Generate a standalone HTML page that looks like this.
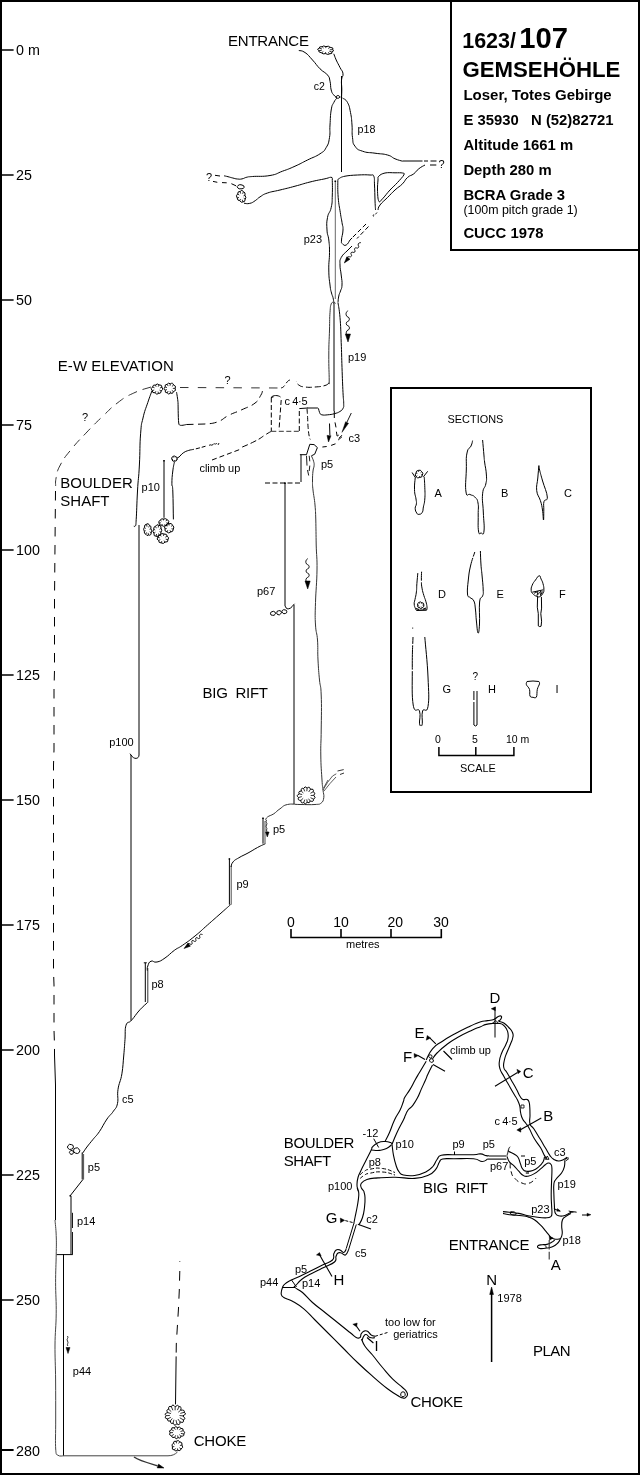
<!DOCTYPE html>
<html><head><meta charset="utf-8"><title>1623/107 Gemsehöhle</title>
<style>
html,body{margin:0;padding:0;background:#fff}
svg{display:block;filter:grayscale(1)}
text{font-family:"Liberation Sans",sans-serif;fill:#000}
</style></head><body>
<svg width="640" height="1475" viewBox="0 0 640 1475">
<rect x="0" y="0" width="640" height="1475" fill="#fff"/>
<rect x="1" y="1" width="638" height="1473" fill="none" stroke="#000" stroke-width="2"/>
<rect x="2" y="49.25" width="11.6" height="1.5" fill="#000"/>
<text x="16" y="54.9" font-size="14.3">0 m</text>
<rect x="2" y="174.25" width="11.6" height="1.5" fill="#000"/>
<text x="16" y="179.9" font-size="14.3">25</text>
<rect x="2" y="299.25" width="11.6" height="1.5" fill="#000"/>
<text x="16" y="304.9" font-size="14.3">50</text>
<rect x="2" y="424.25" width="11.6" height="1.5" fill="#000"/>
<text x="16" y="429.9" font-size="14.3">75</text>
<rect x="2" y="549.25" width="11.6" height="1.5" fill="#000"/>
<text x="16" y="554.9" font-size="14.3">100</text>
<rect x="2" y="674.25" width="11.6" height="1.5" fill="#000"/>
<text x="16" y="679.9" font-size="14.3">125</text>
<rect x="2" y="799.25" width="11.6" height="1.5" fill="#000"/>
<text x="16" y="804.9" font-size="14.3">150</text>
<rect x="2" y="924.25" width="11.6" height="1.5" fill="#000"/>
<text x="16" y="929.9" font-size="14.3">175</text>
<rect x="2" y="1049.25" width="11.6" height="1.5" fill="#000"/>
<text x="16" y="1054.9" font-size="14.3">200</text>
<rect x="2" y="1174.25" width="11.6" height="1.5" fill="#000"/>
<text x="16" y="1179.9" font-size="14.3">225</text>
<rect x="2" y="1299.25" width="11.6" height="1.5" fill="#000"/>
<text x="16" y="1304.9" font-size="14.3">250</text>
<rect x="2" y="1449.00" width="11.6" height="2.0" fill="#000"/>
<text x="16" y="1455.5" font-size="14.3">280</text>
<path d="M451 2V250H638" fill="none" stroke="#000" stroke-width="2"/>
<text x="462.2" y="48.3" font-size="21.5" font-weight="bold">1623/</text>
<text x="519.3" y="48.3" font-size="29.2" font-weight="bold">107</text>
<text x="462.5" y="76.5" font-size="22.2" font-weight="bold">GEMSEHÖHLE</text>
<text x="463.4" y="100" font-size="15" font-weight="bold" textLength="148.3">Loser, Totes Gebirge</text>
<text x="463.4" y="125" font-size="14.85" font-weight="bold" xml:space="preserve">E 35930   N (52)82721</text>
<text x="463.4" y="150" font-size="14.85" font-weight="bold">Altitude 1661 m</text>
<text x="463.4" y="175" font-size="14.85" font-weight="bold">Depth 280 m</text>
<text x="463.4" y="200" font-size="14.85" font-weight="bold">BCRA Grade 3</text>
<text x="463.4" y="214.4" font-size="12.4">(100m pitch grade 1)</text>
<text x="463.4" y="237.5" font-size="14.85" font-weight="bold">CUCC 1978</text>
<rect x="391" y="388" width="200" height="404" fill="none" stroke="#000" stroke-width="2"/>
<text x="447.6" y="422.5" font-size="10.9">SECTIONS</text>
<text x="434.4" y="497.4" font-size="11">A</text>
<text x="501.1" y="497.4" font-size="11">B</text>
<text x="564" y="497.4" font-size="11">C</text>
<text x="437.9" y="597.9" font-size="11">D</text>
<text x="496.6" y="597.9" font-size="11">E</text>
<text x="559" y="597.9" font-size="11">F</text>
<text x="442.5" y="693.2" font-size="11">G</text>
<text x="487.9" y="693.2" font-size="11">H</text>
<text x="555.6" y="693.2" font-size="11">I</text>
<text x="472.6" y="680" font-size="10">?</text>
<path d="M438.9 747V755.6H513.9V747M475.8 747V755.6" fill="none" stroke="#000" stroke-width="1.5"/>
<text x="438" y="743" font-size="10.5" text-anchor="middle">0</text>
<text x="474.8" y="743" font-size="10.5" text-anchor="middle">5</text>
<text x="506" y="743" font-size="10.5">10 m</text>
<text x="460" y="772" font-size="10.9">SCALE</text>
<path d="M415.2 478.0C415.0 481.1 414.3 484.1 414.5 489.7C414.7 495.3 415.5 495.3 416.0 499.0C416.5 502.7 416.6 501.2 416.4 503.8C416.2 506.3 415.1 505.9 415.2 508.4C415.3 510.9 415.8 511.5 416.8 513.1C417.8 514.7 417.6 514.5 419.1 514.3C420.6 514.1 421.2 514.3 422.3 512.3C423.4 510.3 422.7 510.4 423.4 506.9C424.1 503.4 424.4 504.2 424.8 499.0C425.2 493.8 425.0 493.2 424.8 487.3C424.6 481.4 424.4 479.6 424.2 476.8" fill="none" stroke="#000" stroke-width="1"/>
<path d="M416.1 476.7Q414.4 475.0 416.0 473.0Q416.0 470.6 418.3 470.4Q420.6 469.3 421.7 471.7Q423.8 473.0 422.3 475.1Q422.4 477.7 419.8 477.4Q417.5 478.8 416.1 476.7Z" fill="none" stroke="#000" stroke-width="1"/>
<path d="M416.1 476.7L417.3 475.6M416.0 473.0L417.3 473.4M418.3 470.4L418.7 471.9M421.7 471.7L420.6 472.7M422.3 475.1L421.0 474.6M419.8 477.4L419.5 476.0" fill="none" stroke="#000" stroke-width="0.8"/>
<path d="M412.1 472.5L415.6 478M427.7 471.3L423.4 476.8" fill="none" stroke="#000" stroke-width="1"/>
<path d="M472.6 440.6C472.2 442.0 472.5 442.7 471.0 446.0C469.5 449.3 468.3 446.6 467.0 453.0C465.7 459.4 466.6 459.6 466.3 470.0C466.0 480.4 465.0 485.5 466.0 492.0C467.0 498.5 467.7 493.2 470.0 494.5C472.3 495.8 472.7 494.7 474.8 497.0C476.9 499.3 477.1 498.2 478.0 503.0C478.9 507.8 478.1 507.5 478.2 515.0C478.3 522.5 477.8 526.2 478.5 531.0C479.2 535.8 479.5 533.0 481.0 533.0C482.5 533.0 483.4 536.6 484.0 531.0C484.6 525.4 483.7 521.9 483.3 512.0C482.9 502.1 481.9 501.2 482.6 493.8C483.3 486.3 484.8 489.0 485.8 484.0C486.8 479.0 486.7 480.9 486.4 475.0C486.1 469.1 485.2 467.1 484.6 462.0C484.0 456.9 484.5 461.9 484.0 456.0C483.5 450.1 483.0 444.3 482.6 440.0" fill="none" stroke="#000" stroke-width="1"/>
<path d="M538.9 465.6C538.6 468.5 538.3 472.2 537.8 478.0C537.3 483.8 536.1 485.3 536.7 490.6C537.3 495.9 539.0 496.1 540.4 500.6C541.8 505.1 541.8 505.5 542.5 510.0C543.2 514.5 543.2 520.0 543.5 520.0C543.8 520.0 543.7 514.3 543.8 510.0C543.9 505.7 543.2 504.5 544.0 501.5C544.8 498.5 547.6 501.8 547.3 497.0C547.0 492.2 544.4 487.3 542.6 481.0C540.8 474.7 540.5 473.6 539.6 470.0C538.7 466.4 539.1 466.6 538.9 465.6" fill="none" stroke="#000" stroke-width="1"/>
<path d="M417.8 573.1C417.6 575.8 417.3 578.4 416.9 583.4C416.5 588.4 416.9 587.6 416.4 591.9C415.9 596.2 415.6 596.2 415.0 599.4C414.4 602.6 414.1 601.5 414.2 604.0C414.3 606.5 414.9 607.0 415.5 608.7C416.1 610.4 416.2 609.9 416.4 610.4" fill="none" stroke="#000" stroke-width="1"/>
<path d="M416.4 610.4L426.7 610" fill="none" stroke="#000" stroke-width="1.3"/>
<path d="M421.6 571.7C421.5 574.1 421.3 576.2 421.4 580.6C421.5 585.0 421.3 584.1 422.0 588.1C422.7 592.1 422.9 592.1 423.9 595.6C424.9 599.1 425.0 598.2 425.8 601.2C426.6 604.2 426.8 604.6 427.0 606.9C427.2 609.2 426.8 609.2 426.7 610.0" fill="none" stroke="#000" stroke-width="1" stroke-dasharray="9 1.5 100"/>
<path d="M418.9 602.5Q420.3 601.1 421.8 602.7Q424.1 602.7 423.9 605.0Q424.3 607.1 422.2 607.8Q420.9 609.4 419.4 607.7Q417.3 607.5 417.6 605.4Q417.0 603.3 418.9 602.5Z" fill="none" stroke="#000" stroke-width="1"/>
<path d="M418.9 602.5L419.6 603.6M421.8 602.7L421.3 603.7M423.9 605.0L422.5 605.1M422.2 607.8L421.5 606.7M419.4 607.7L419.9 606.7M417.6 605.4L418.8 605.3" fill="none" stroke="#000" stroke-width="0.8"/>
<path d="M415.8 608.5L419 609.5M423 609.3L426 608" fill="none" stroke="#000" stroke-width="1.2"/>
<path d="M474.8 552.0C473.8 555.3 472.0 559.5 470.5 566.0C469.0 572.5 469.0 573.5 468.3 580.0C467.6 586.5 467.1 589.9 467.5 594.0C467.9 598.1 468.5 595.9 470.0 597.5C471.5 599.1 472.6 598.1 473.9 601.0C475.2 603.9 474.9 605.3 475.5 610.0C476.1 614.7 475.8 615.6 476.4 621.0C477.0 626.4 477.3 632.3 478.0 633.0C478.7 633.7 479.1 631.2 479.5 624.0C479.9 616.8 478.9 608.5 479.6 602.0C480.3 595.5 481.7 598.8 482.6 596.0C483.5 593.2 483.4 594.9 483.2 590.0C483.1 585.1 482.5 580.8 482.0 575.0C481.5 569.2 481.4 570.6 481.0 565.0C480.6 559.4 480.5 554.3 480.4 551.0" fill="none" stroke="#000" stroke-width="1" stroke-dasharray="5 1.2 400"/>
<path d="M539.2 575.8C537.7 576.0 537.4 577.5 535.5 580.0C533.6 582.5 533.3 582.5 532.2 585.2C531.1 587.9 531.1 588.1 531.2 590.3C531.3 592.5 531.2 592.0 532.7 593.6C534.2 595.2 534.9 595.7 536.9 596.4C538.9 597.1 538.6 597.3 540.2 596.4C541.8 595.5 542.0 595.0 543.0 593.1C544.0 591.2 543.9 591.9 543.9 589.4C543.9 586.9 543.7 586.4 543.0 583.7C542.3 581.0 542.1 581.2 541.1 579.1C540.1 577.0 540.7 575.6 539.2 575.8Z" fill="none" stroke="#000" stroke-width="1"/>
<path d="M532.2 592.2L543.4 589.8" fill="none" stroke="#000" stroke-width="1"/>
<path d="M534 593.3L538 591.5L537 595.5L541 591L540.5 595.5L542.5 591.5" fill="none" stroke="#000" stroke-width="0.9"/>
<path d="M537.6 596.4L537.3 607.2L538.3 613.7V625.9L539.7 626.6L541.1 626.2L541.6 621.2L540.8 613.7L541.6 608.1L541.4 596.9" fill="none" stroke="#000" stroke-width="1"/>
<path d="M412.7 627.6v1" fill="none" stroke="#000" stroke-width="1"/>
<path d="M413.0 637.0C412.8 644.1 412.2 651.6 412.3 667.5C412.4 683.4 411.6 694.9 413.2 705.0C414.9 715.1 418.0 706.6 419.5 711.0C421.0 715.4 419.1 720.5 419.5 723.8C419.9 727.0 420.3 725.0 421.0 725.0C421.7 725.0 421.9 727.0 422.3 723.8C422.7 720.5 421.3 715.0 422.6 711.0C423.9 707.0 426.7 714.4 428.0 706.5C429.3 698.6 428.7 693.2 428.0 677.0C427.3 660.8 425.5 646.3 424.8 637.0" fill="none" stroke="#000" stroke-width="1" stroke-dasharray="7 1.5 24 1.5 400"/>
<path d="M473.9 691V725L475.5 726L477 725V691" fill="none" stroke="#000" stroke-width="1" stroke-dasharray="9 2 100"/>
<path d="M527.0 681.5C526.9 682.1 525.9 683.1 526.4 684.7C526.9 686.3 528.8 687.1 529.5 689.4C530.2 691.7 529.3 694.4 530.0 696.0C530.7 697.6 531.7 697.1 533.0 697.3C534.3 697.5 535.5 698.6 536.4 697.0C537.3 695.4 536.7 692.0 537.3 689.4C537.9 686.8 539.2 685.3 539.5 683.8C539.8 682.2 539.0 682.0 538.9 681.5" fill="none" stroke="#000" stroke-width="1"/>
<path d="M527 681.5L533 681L538.9 681.5" fill="none" stroke="#000" stroke-width="1"/>
<text x="228" y="45.8" font-size="15" textLength="81">ENTRANCE</text>
<path d="M321.6 52.8Q318.2 52.3 318.7 50.6Q316.2 49.0 319.3 48.2Q318.8 46.4 322.1 46.7Q323.4 45.3 325.9 46.6Q328.8 45.5 330.1 47.3Q334.2 47.6 332.8 49.6Q334.7 51.1 331.9 52.0Q332.8 53.9 329.7 53.8Q328.2 55.2 325.5 53.6Q322.7 54.5 321.6 52.8Z" fill="none" stroke="#000" stroke-width="1"/>
<path d="M321.6 52.8L323.3 51.6M318.7 50.6L321.7 50.4M319.3 48.2L322.0 49.0M322.1 46.7L323.6 48.1M325.9 46.6L325.8 48.1M330.1 47.3L328.2 48.5M332.8 49.6L329.8 49.8M331.9 52.0L329.3 51.2M329.7 53.8L328.0 52.3M325.5 53.6L325.6 52.1" fill="none" stroke="#000" stroke-width="0.8"/>
<path d="M298.8 50.5C300.4 51.0 301.3 50.0 305.0 52.5C308.7 55.0 308.5 55.7 312.5 60.0C316.5 64.3 316.0 64.8 320.0 68.8C324.0 72.8 324.8 71.7 327.5 75.0C330.2 78.3 329.0 77.2 330.0 81.2C331.0 85.2 330.2 86.3 331.2 90.0C332.2 93.7 332.2 93.0 333.8 95.0C335.3 97.0 336.1 96.8 337.0 97.5" fill="none" stroke="#000" stroke-width="1"/>
<path d="M335.5 97L338 95.3L340.3 97L338 98.5Z" fill="none" stroke="#000" stroke-width="0.9"/>
<path d="M333.8 53.8C334.4 55.4 334.6 56.3 336.2 60.0C337.9 63.7 338.2 63.8 340.0 67.5C341.8 71.2 342.6 70.4 343.0 73.8C343.4 77.1 341.8 76.0 341.5 80.0C341.2 84.0 341.7 84.3 341.8 88.8C341.8 93.2 341.6 94.4 341.6 96.5" fill="none" stroke="#000" stroke-width="1"/>
<text x="313.7" y="89.5" font-size="10.5">c2</text>
<text x="357.5" y="133" font-size="10.7">p18</text>
<path d="M341.5 76V172" fill="none" stroke="#000" stroke-width="1"/>
<path d="M337.0 98.0C336.1 99.2 335.3 99.3 333.8 102.5C332.2 105.7 332.2 104.0 331.2 110.0C330.2 116.0 330.5 117.7 330.0 125.0C329.5 132.3 330.5 131.5 329.5 137.5C328.5 143.5 328.8 143.2 326.2 147.5C323.7 151.8 325.0 150.4 320.0 153.8C315.0 157.1 314.2 156.7 307.5 160.0C300.8 163.3 301.7 163.2 295.0 166.2C288.3 169.2 289.2 168.8 282.5 171.2C275.8 173.7 278.0 174.1 270.0 175.5C262.0 176.9 258.7 176.0 252.5 176.5C246.3 177.0 249.7 176.6 246.9 177.2C244.1 177.8 244.5 178.4 242.0 178.9C239.5 179.4 240.0 179.2 237.5 179.0C235.0 178.8 235.3 178.6 232.8 178.0C230.3 177.4 230.3 177.3 228.0 176.7C225.7 176.1 225.1 176.0 224.0 175.8" fill="none" stroke="#000" stroke-width="1"/>
<path d="M215 175.3L220 176" fill="none" stroke="#000" stroke-width="1"/>
<path d="M213 181.4L217.3 182.3M222 182.6L226.7 182.8M231.4 183.7L236 185.8" fill="none" stroke="#000" stroke-width="1"/>
<text x="206" y="180.5" font-size="11">?</text>
<path d="M244.1 187.3Q243.9 189.0 241.1 188.8Q238.8 189.3 237.8 187.9Q236.2 186.7 238.0 185.5Q239.6 184.0 242.0 185.0Q244.6 185.6 244.1 187.3Z" fill="none" stroke="#000" stroke-width="1"/>
<path d="M239.8 200.7Q237.4 200.8 237.2 198.0Q235.4 195.6 237.7 193.9Q237.7 191.0 240.1 191.5Q241.8 189.0 243.5 191.7Q245.7 192.3 245.0 195.4Q246.6 197.5 245.2 199.2Q245.2 202.1 243.0 201.9Q241.2 203.2 239.8 200.7Z" fill="none" stroke="#000" stroke-width="1"/>
<path d="M239.8 200.7L240.5 199.0M237.2 198.0L239.0 197.4M237.7 193.9L239.3 195.1M240.1 191.5L240.7 193.6M243.5 191.7L242.6 193.8M245.0 195.4L243.5 195.9M245.2 199.2L243.7 198.1M243.0 201.9L242.3 199.7" fill="none" stroke="#000" stroke-width="0.8"/>
<path d="M244.0 203.2C245.5 203.3 246.7 204.1 249.7 203.4C252.7 202.7 252.6 202.3 255.3 200.6C258.0 198.9 256.7 198.9 260.0 196.9C263.3 194.9 262.2 194.8 267.5 193.0C272.8 191.2 272.7 191.8 280.0 190.0C287.3 188.2 287.0 188.4 295.0 186.2C303.0 184.1 302.0 184.0 310.0 182.0C318.0 180.0 319.4 180.0 325.0 178.8C330.6 177.5 329.0 177.2 331.0 177.3C333.0 177.4 332.1 178.5 332.5 179.0" fill="none" stroke="#000" stroke-width="1"/>
<path d="M332.3 179.0C332.3 183.3 332.6 187.4 332.3 195.0C332.0 202.6 332.5 201.5 331.2 207.5C330.0 213.5 328.6 211.5 327.5 217.5C326.4 223.5 326.7 224.0 327.0 230.0C327.3 236.0 328.1 234.0 328.8 240.0C329.4 246.0 329.5 244.5 329.5 252.5C329.5 260.5 328.6 261.3 328.8 270.0C328.9 278.7 329.3 278.9 330.0 285.0C330.7 291.1 330.7 289.7 331.5 293.0C332.3 296.3 332.4 295.0 333.0 297.5C333.6 300.0 333.6 301.2 333.8 302.5" fill="none" stroke="#000" stroke-width="1"/>
<path d="M335.3 181V299" fill="none" stroke="#000" stroke-width="0.6"/>
<path d="M335.3 180.5v1.5" fill="none" stroke="#000" stroke-width="1.6"/>
<path d="M337.8 180.5C338.0 180.1 337.1 179.7 338.8 178.8C340.4 177.8 340.6 177.1 345.0 176.2C349.4 175.4 351.7 175.3 357.5 175.0C363.3 174.7 366.2 174.7 370.0 175.0C373.8 175.3 372.7 173.9 373.8 176.2C374.8 178.6 374.2 179.5 374.5 185.0C374.8 190.5 374.8 194.2 375.0 200.0C375.2 205.8 375.4 207.7 375.5 210.0" fill="none" stroke="#000" stroke-width="1"/>
<path d="M337.8 180.5C337.9 185.0 337.5 189.0 338.2 197.5C338.9 206.0 339.3 205.8 340.3 212.5C341.3 219.2 341.3 217.8 342.0 222.5C342.7 227.2 343.1 225.3 343.0 230.0C342.9 234.7 341.6 236.3 341.5 240.0C341.4 243.7 341.2 242.4 342.5 243.8C343.8 245.1 344.2 246.0 346.2 245.0C348.2 244.0 349.0 241.3 350.0 240.0" fill="none" stroke="#000" stroke-width="1"/>
<path d="M350 240L357 233" fill="none" stroke="#000" stroke-width="1" stroke-dasharray="3 2"/>
<path d="M347.0 251.0C345.5 252.7 343.1 253.8 341.2 257.5C339.4 261.2 340.0 260.3 340.0 265.0C340.0 269.7 340.7 269.7 341.2 275.0C341.8 280.3 342.2 280.7 342.0 285.0C341.8 289.3 341.4 288.1 340.5 291.0C339.6 293.9 339.4 292.9 338.8 296.0C338.1 299.1 338.2 300.8 338.0 302.5" fill="none" stroke="#000" stroke-width="1"/>
<path d="M347 251L352 246" fill="none" stroke="#000" stroke-width="1"/>
<path d="M342.5 98.0C343.8 99.2 345.4 98.6 347.5 102.5C349.6 106.4 349.3 106.5 350.5 112.5C351.7 118.5 351.5 118.3 352.0 125.0C352.5 131.7 351.7 131.8 352.5 137.5C353.3 143.2 352.3 142.6 355.0 146.2C357.7 149.9 357.2 149.4 362.5 151.2C367.8 153.1 368.3 152.2 375.0 153.2C381.7 154.2 382.2 153.5 387.5 155.0C392.8 156.5 391.0 157.1 395.0 158.8C399.0 160.4 400.5 160.6 402.5 161.2" fill="none" stroke="#000" stroke-width="1"/>
<path d="M402.5 161H422.5" fill="none" stroke="#000" stroke-width="1"/>
<path d="M424 161H428M430.5 161H436.5" fill="none" stroke="#000" stroke-width="1"/>
<text x="438.5" y="168" font-size="11">?</text>
<path d="M430 165H436.3" fill="none" stroke="#000" stroke-width="1"/>
<path d="M425.0 165.0C423.3 166.0 421.8 166.4 418.8 168.8C415.8 171.1 416.8 171.4 413.8 173.8C410.8 176.1 410.5 174.8 407.5 177.5C404.5 180.2 405.8 180.4 402.5 183.8C399.2 187.1 399.0 186.3 395.0 190.0C391.0 193.7 391.5 193.5 387.5 197.5C383.5 201.5 382.5 201.7 380.0 205.0C377.5 208.3 378.5 208.7 378.0 210.0" fill="none" stroke="#000" stroke-width="1"/>
<path d="M378.8 176.2C380.1 174.8 381.8 173.7 385.0 173.0C388.2 172.3 391.5 172.8 395.0 172.8C398.5 172.8 400.8 172.6 402.5 173.0C404.2 173.4 404.8 173.1 403.8 175.0C402.8 176.9 400.2 179.5 397.5 182.5C394.8 185.5 393.0 186.8 390.0 190.0C387.0 193.2 384.8 196.5 382.5 198.8C380.2 201.0 379.8 203.0 378.8 201.2C377.8 199.5 377.6 194.2 377.5 190.0C377.4 185.8 377.8 182.8 378.0 180.0C378.2 177.2 377.4 177.7 378.8 176.2Z" fill="none" stroke="#000" stroke-width="1"/>
<path d="M366 224L350 240" fill="none" stroke="#000" stroke-width="1" stroke-dasharray="4.5 2.5"/>
<path d="M368.5 226.5L357 238.5" fill="none" stroke="#000" stroke-width="1" stroke-dasharray="4.5 2.5"/>
<path d="M373.6 214.5l-0.6 1.5M377 212.5l-3.5 4" fill="none" stroke="#000" stroke-width="0.9" stroke-dasharray="2.5 2"/>
<text x="303.7" y="243" font-size="11">p23</text>
<path d="M361.0 242.5C360.1 243.0 359.2 242.2 358.3 243.9C357.4 245.6 359.6 246.2 358.4 247.6C357.2 249.1 355.9 246.8 354.8 248.3C353.6 249.7 356.0 250.5 354.8 252.0C353.7 253.4 352.4 251.2 351.2 252.6C350.0 254.1 352.5 254.9 351.3 256.3C350.1 257.8 349.2 255.8 347.7 257.0C346.2 258.2 347.1 258.9 346.8 259.9" fill="none" stroke="#000" stroke-width="0.9"/>
<path d="M344.3 263.0L346.9 256.7L350.0 259.2Z" fill="#000" stroke="#000" stroke-width="0.5"/>
<path d="M333.5 302.5C332.9 302.9 332.2 301.3 331.2 304.0C330.3 306.7 330.5 305.6 330.0 312.5C329.5 319.4 329.8 318.7 329.5 330.0C329.2 341.3 328.8 341.7 328.8 355.0C328.7 368.3 329.2 372.5 329.2 380.0C329.2 387.5 328.9 382.2 328.8 383.0" fill="none" stroke="#333" stroke-width="1"/>
<path d="M334 303V411" fill="none" stroke="#000" stroke-width="1"/>
<path d="M333.2 303.3L334.5 302.3L335.5 303.5" fill="none" stroke="#000" stroke-width="0.8"/>
<path d="M338.0 302.8C338.5 306.2 339.2 308.2 340.0 317.5C340.8 326.8 340.8 330.8 341.2 342.5C341.7 354.2 341.6 355.8 342.0 367.5C342.4 379.2 342.6 384.1 343.0 392.5C343.4 400.9 343.7 399.6 343.7 403.3C343.7 407.0 344.0 406.3 343.1 408.2C342.2 410.1 341.9 410.2 339.9 411.5C337.9 412.8 337.2 412.9 334.4 413.7C331.6 414.5 330.7 414.5 327.8 414.8C324.9 415.1 323.7 415.3 321.8 414.8C319.9 414.3 320.4 414.0 319.6 412.6C318.8 411.2 319.0 409.8 318.5 408.8C318.0 407.7 317.7 408.1 317.4 407.9" fill="none" stroke="#000" stroke-width="1"/>
<path d="M317.4 408H307" fill="none" stroke="#000" stroke-width="1"/>
<path d="M347.7 310.6C347.2 312.0 345.6 312.1 346.1 314.9C346.7 317.8 349.4 316.3 349.4 319.2C349.4 322.1 346.2 320.7 346.2 323.6C346.3 326.4 349.4 325.0 349.5 327.9C349.5 330.7 346.8 329.3 346.3 332.2C345.8 335.1 347.4 335.1 347.9 336.5" fill="none" stroke="#000" stroke-width="0.9"/>
<path d="M348.0 342.0L345.3 334.0L350.5 334.0Z" fill="#000" stroke="#000" stroke-width="0.5"/>
<text x="348" y="361.3" font-size="11">p19</text>
<path d="M328.8 383.0C327.8 383.7 328.7 384.4 325.0 385.5C321.3 386.6 320.3 386.6 315.0 387.0C309.7 387.4 309.3 387.5 305.0 387.0C300.7 386.5 301.1 386.5 298.8 385.0C296.4 383.5 296.9 382.2 296.2 381.2" fill="none" stroke="#000" stroke-width="1" stroke-dasharray="6 3"/>
<path d="M290.0 380.0C289.3 380.4 289.2 379.8 287.5 381.5C285.8 383.2 285.5 384.8 283.8 386.5C282.0 388.2 281.7 387.6 281.0 388.0" fill="none" stroke="#000" stroke-width="1" stroke-dasharray="5 3"/>
<path d="M180 387.5L278.5 388" fill="none" stroke="#333" stroke-width="1" stroke-dasharray="8.5 9.3"/>
<text x="224.5" y="383.8" font-size="11">?</text>
<path d="M262.5 391.0C262.0 392.2 262.6 392.4 260.6 395.6C258.6 398.8 260.0 399.3 255.0 403.1C250.0 406.9 248.9 406.4 241.9 409.7C234.9 413.0 235.3 412.0 228.8 415.3C222.3 418.6 223.8 419.6 217.5 421.9C211.2 424.2 208.3 423.4 205.0 424.0" fill="none" stroke="#000" stroke-width="1" stroke-dasharray="7 4.5"/>
<path d="M205 424L187 424.5" fill="none" stroke="#000" stroke-width="1" stroke-dasharray="7 4.5"/>
<path d="M271.3 397.5V431.3" fill="none" stroke="#000" stroke-width="1" stroke-dasharray="5 2.5"/>
<path d="M281.2 400L279 430" fill="none" stroke="#000" stroke-width="1" stroke-dasharray="5 2.5"/>
<path d="M271.3 397.3C273 395 278 395 280.5 397" fill="none" stroke="#000" stroke-width="1"/>
<path d="M271 397.5l2.5 -0.6" fill="none" stroke="#000" stroke-width="1"/>
<path d="M271.3 431.3H298.8" fill="none" stroke="#333" stroke-width="1" stroke-dasharray="5 2.5"/>
<path d="M299.3 431V408.8" fill="none" stroke="#000" stroke-width="1" stroke-dasharray="5 2.5"/>
<path d="M299.3 408.6L307.5 408" fill="none" stroke="#000" stroke-width="1"/>
<text x="284.5" y="404.5" font-size="11" textLength="23">c 4·5</text>
<path d="M271.3 431.3C269.6 432.3 269.3 432.3 265.0 435.0C260.7 437.7 261.7 437.8 255.0 441.2C248.3 444.7 244.0 446.2 240.0 448.0" fill="none" stroke="#000" stroke-width="1" stroke-dasharray="6 3"/>
<path d="M307.0 408.8C307.2 411.1 307.3 412.5 307.6 417.5C307.9 422.5 307.7 422.4 308.1 427.4C308.5 432.4 308.6 432.9 309.2 436.1C309.8 439.3 310.0 438.5 310.3 439.4" fill="none" stroke="#000" stroke-width="1" stroke-dasharray="5 2.5"/>
<path d="M299.9 454.7H306.5L309.8 444.3L314.1 444.6L317.4 447.6L314.7 454.2L311.4 455.8" fill="none" stroke="#000" stroke-width="1"/>
<path d="M322.4 447L326.7 446.5M331.1 445.4L335.5 443.8M338.2 440L342 436.7" fill="none" stroke="#000" stroke-width="1"/>
<path d="M329.5 423.5L329.9 435" fill="none" stroke="#000" stroke-width="1"/>
<path d="M328.5 442.0L327.0 435.4L331.0 435.7Z" fill="#000" stroke="#000" stroke-width="0.5"/>
<path d="M334.3 411V418" fill="none" stroke="#000" stroke-width="1"/>
<path d="M335 422.4L336 427.4M336.4 431.7L337.1 436" fill="none" stroke="#000" stroke-width="1"/>
<path d="M337.1 436.2l1.7 -1.2M338.8 438.3l3.2 -3.2" fill="none" stroke="#000" stroke-width="0.9"/>
<path d="M351.3 413L347 422" fill="none" stroke="#000" stroke-width="0.9"/>
<path d="M342.0 432.3L345.6 421.8L348.5 423.3Z" fill="#000" stroke="#000" stroke-width="0.5"/>
<text x="348.6" y="441.6" font-size="11">c3</text>
<text x="321" y="468.4" font-size="11">p5</text>
<path d="M301 454.7V482" fill="none" stroke="#000" stroke-width="1"/>
<path d="M265 483H301.3" fill="none" stroke="#000" stroke-width="1" stroke-dasharray="5 2.5"/>
<path d="M306.5 455.8L307 465.6M307.5 470L308.7 475.5" fill="none" stroke="#000" stroke-width="0.9"/>
<path d="M309.2 455.8L309.8 461.3M309.8 465.6L309.2 471" fill="none" stroke="#000" stroke-width="0.9"/>
<path d="M311.4 455.8C311.9 457.1 313.0 459.0 313.6 461.3C314.2 463.6 314.2 463.3 314.1 465.6C314.0 467.9 313.4 467.4 313.0 471.0C312.6 474.6 312.5 476.6 312.5 481.0C312.5 485.4 312.4 484.4 313.0 490.0C313.6 495.6 314.4 498.0 315.0 505.0C315.6 512.0 315.5 510.7 315.8 520.0C316.0 529.3 316.0 533.3 316.2 545.0C316.5 556.7 317.2 556.6 317.0 570.0C316.8 583.4 315.9 589.7 315.5 602.5C315.1 615.3 315.0 616.2 315.5 625.0C316.0 633.8 316.9 631.8 317.5 640.0C318.1 648.2 317.5 650.7 318.0 660.0C318.5 669.3 318.7 671.8 319.5 680.0C320.3 688.2 320.8 683.3 321.2 695.0C321.7 706.7 321.4 716.0 321.2 730.0C321.1 744.0 320.6 743.3 320.8 755.0C320.9 766.7 321.5 771.8 322.0 780.0C322.5 788.2 322.6 785.9 323.0 790.0C323.4 794.1 324.2 794.5 323.8 797.5C323.3 800.5 323.3 801.4 321.2 803.0C319.2 804.6 320.0 804.1 315.0 804.5C310.0 804.9 306.4 804.5 300.0 804.5C293.6 804.5 292.2 803.5 287.5 804.5C282.8 805.5 283.2 806.6 280.0 808.8C276.8 810.9 276.7 811.8 273.8 813.8C270.8 815.7 269.4 815.5 267.5 817.0C265.6 818.5 266.0 819.3 265.5 820.0" fill="none" stroke="#333" stroke-width="1"/>
<path d="M285 482.5V606" fill="none" stroke="#000" stroke-width="1"/>
<path d="M285 482.5v1.5" fill="none" stroke="#000" stroke-width="1.5"/>
<path d="M285.0 606.0C286.2 606.9 285.6 609.5 288.8 608.8C291.9 608.0 292.6 605.4 294.5 603.8" fill="none" stroke="#000" stroke-width="1"/>
<path d="M272.6 615.3Q270.5 615.4 270.5 613.8Q270.1 612.2 272.0 611.7Q273.6 610.8 274.9 612.0Q276.3 613.2 275.0 614.4Q274.3 615.8 272.6 615.3Z" fill="none" stroke="#000" stroke-width="1"/>
<path d="M278.4 610.8Q280.2 610.1 281.1 611.5Q282.1 612.7 280.7 613.8Q279.9 615.3 278.0 614.7Q276.3 614.1 276.8 612.5Q276.6 611.0 278.4 610.8Z" fill="none" stroke="#000" stroke-width="1"/>
<path d="M282.2 610.6Q283.3 609.2 285.1 609.9Q287.0 610.1 286.8 611.7Q287.0 613.1 285.3 613.5Q283.7 614.2 282.7 613.0Q281.2 611.9 282.2 610.6Z" fill="none" stroke="#000" stroke-width="1"/>
<path d="M294 605V804" fill="none" stroke="#000" stroke-width="1"/>
<text x="257" y="594.5" font-size="11">p67</text>
<path d="M307.5 558.5C307.0 559.9 305.4 559.9 305.9 562.7C306.5 565.5 309.1 564.0 309.2 566.8C309.2 569.6 306.0 568.2 306.0 571.0C306.0 573.8 309.2 572.4 309.2 575.2C309.2 577.9 306.6 576.6 306.0 579.3C305.5 582.1 307.1 582.1 307.7 583.5" fill="none" stroke="#000" stroke-width="0.9"/>
<path d="M307.7 589.0L305.0 581.0L310.2 581.0Z" fill="#000" stroke="#000" stroke-width="0.5"/>
<text x="202.5" y="697.5" font-size="15" xml:space="preserve" textLength="65.5">BIG  RIFT</text>
<path d="M323 790L327.5 782.5L332.5 776L336.3 773.8M324 791L330 783.5L336 777M323.5 788L328 780" fill="none" stroke="#333" stroke-width="0.8"/>
<path d="M337.5 771L343.7 769.6M340 774.5L344 773" fill="none" stroke="#000" stroke-width="0.8"/>
<path d="M300.9 800.4Q297.1 800.5 298.6 797.5Q295.5 795.6 299.3 793.9Q297.7 791.1 301.3 791.1Q300.7 787.6 303.6 788.5Q304.9 785.3 307.1 788.1Q309.8 785.9 310.4 789.4Q314.2 788.4 313.3 791.7Q316.0 793.0 313.8 795.4Q316.4 797.9 313.6 799.2Q314.0 802.2 310.2 801.0Q309.6 803.9 307.2 802.3Q305.2 805.3 303.7 802.6Q300.7 803.8 300.9 800.4Z" fill="none" stroke="#000" stroke-width="1"/>
<path d="M300.9 800.4L303.2 798.3M298.6 797.5L301.8 796.6M299.3 793.9L302.2 794.5M301.3 791.1L303.4 793.0M303.6 788.5L304.7 791.4M307.1 788.1L306.8 791.2M310.4 789.4L308.7 792.0M313.3 791.7L310.4 793.3M313.8 795.4L310.7 795.5M313.6 799.2L310.5 797.7M310.2 801.0L308.5 798.7M307.2 802.3L306.8 799.4M303.7 802.6L304.8 799.6" fill="none" stroke="#000" stroke-width="0.8"/>
<text x="57.8" y="371.3" font-size="15" textLength="116">E-W ELEVATION</text>
<path d="M152.6 387.0Q152.8 384.5 155.5 385.0Q157.3 383.0 159.0 384.9Q162.1 384.5 162.0 387.3Q164.0 389.4 161.2 391.0Q161.3 393.6 158.6 393.5Q156.7 395.2 155.1 392.8Q152.1 393.3 152.2 390.6Q149.9 388.6 152.6 387.0Z" fill="none" stroke="#000" stroke-width="1"/>
<path d="M152.6 387.0L154.5 387.8M155.5 385.0L156.1 386.7M159.0 384.9L158.2 386.7M162.0 387.3L159.9 388.0M161.2 391.0L159.5 390.1M158.6 393.5L158.0 391.6M155.1 392.8L155.9 391.2M152.2 390.6L154.2 390.0" fill="none" stroke="#000" stroke-width="0.8"/>
<path d="M173.4 391.6Q173.0 394.3 170.5 393.1Q168.6 395.1 167.2 392.9Q164.6 392.9 165.2 390.2Q163.1 388.6 165.1 386.9Q164.5 384.3 167.1 384.3Q168.4 382.3 170.3 383.8Q173.0 382.2 173.5 385.0Q176.6 385.8 175.2 388.4Q176.6 390.9 173.4 391.6Z" fill="none" stroke="#000" stroke-width="1"/>
<path d="M173.4 391.6L171.8 390.3M170.5 393.1L170.1 391.2M167.2 392.9L168.2 391.0M165.2 390.2L167.0 389.5M165.1 386.9L167.0 387.6M167.1 384.3L168.2 386.1M170.3 383.8L170.0 385.8M173.5 385.0L171.9 386.5M175.2 388.4L172.8 388.4" fill="none" stroke="#000" stroke-width="0.8"/>
<path d="M151.0 387.0C146.4 388.6 142.6 388.9 133.8 393.0C125.0 397.1 126.3 396.2 118.0 402.5C109.7 408.8 110.8 408.6 102.5 416.5C94.2 424.4 95.3 423.2 87.0 432.0C78.7 440.8 78.4 440.6 71.2 449.4C64.1 458.2 64.3 457.5 60.3 465.0C56.3 472.5 57.5 471.9 56.2 477.5C55.0 483.1 55.8 483.7 55.6 486.0" fill="none" stroke="#333" stroke-width="1" stroke-dasharray="9 6"/>
<text x="82" y="420.6" font-size="11">?</text>
<path d="M55.5 491L54.5 600V670L54 690V750L53.5 765V970L54 985V1030L54.5 1045V1055" fill="none" stroke="#000" stroke-width="1" stroke-dasharray="9.5 8.5"/>
<path d="M54.5 1055L55.5 1085V1220" fill="none" stroke="#000" stroke-width="1"/>
<path d="M151.9 391.0C150.8 394.1 150.2 395.3 147.8 402.5C145.4 409.7 144.9 409.7 143.0 418.0C141.1 426.3 141.6 421.2 140.6 433.8C139.6 446.3 140.2 449.7 139.4 465.0C138.6 480.3 138.3 476.5 137.5 491.0C136.7 505.5 136.8 510.2 136.2 519.4C135.7 528.6 136.0 523.8 135.3 525.6C134.6 527.4 134.2 526.1 133.8 526.2" fill="none" stroke="#000" stroke-width="1"/>
<path d="M176.5 392.0C176.7 393.1 177.8 399.3 178.0 402.5C178.2 405.7 178.1 422.2 179.0 424.4C179.9 426.6 186.2 424.4 187.0 424.4" fill="none" stroke="#000" stroke-width="1"/>
<path d="M172.7 456.6Q174.1 455.3 175.7 456.6Q177.7 457.3 177.2 459.4Q176.6 461.4 174.6 461.2Q172.5 461.8 172.0 459.7Q170.9 457.8 172.7 456.6Z" fill="none" stroke="#000" stroke-width="1"/>
<path d="M172.7 456.6L173.4 457.5M175.7 456.6L175.1 457.5M177.2 459.4L176.0 459.1M174.6 461.2L174.5 460.2M172.0 459.7L173.0 459.3" fill="none" stroke="#000" stroke-width="0.8"/>
<path d="M177.0 457.5C177.5 457.4 177.2 458.3 179.0 457.0C180.8 455.7 180.8 454.4 183.8 452.5C186.7 450.6 188.3 450.7 190.0 450.0" fill="none" stroke="#000" stroke-width="1"/>
<path d="M190.0 450.0C191.6 449.7 191.8 449.8 196.0 448.8C200.2 447.8 203.0 446.9 205.6 446.2" fill="none" stroke="#000" stroke-width="1" stroke-dasharray="4 2"/>
<path d="M209 445.5c1.5 -2 2.5 1 4 -1 c1.5 -2 2.5 1 4 -1.5M218 445l1 -2" fill="none" stroke="#000" stroke-width="0.9"/>
<path d="M212 460L240 449.4" fill="none" stroke="#000" stroke-width="1" stroke-dasharray="5 3"/>
<path d="M164 460.3V517.8" fill="none" stroke="#000" stroke-width="1"/>
<path d="M164 460v1.5" fill="none" stroke="#000" stroke-width="1.5"/>
<path d="M174.4 462.0C174.0 464.4 173.5 465.2 172.8 471.0C172.1 476.8 171.9 478.4 171.9 483.8C171.9 489.1 172.4 481.5 172.8 491.0C173.2 500.5 173.2 511.8 173.4 519.4" fill="none" stroke="#000" stroke-width="1"/>
<text x="199.4" y="471.9" font-size="11">climb up</text>
<text x="141.6" y="491" font-size="11">p10</text>
<text x="60.3" y="487.5" font-size="15" textLength="72.5">BOULDER</text>
<text x="60.3" y="506.3" font-size="15">SHAFT</text>
<path d="M144.3 531.2Q142.9 529.1 144.4 527.4Q144.4 524.2 146.5 524.2Q148.4 522.4 149.5 525.5Q151.7 525.7 150.9 528.8Q152.8 531.0 151.2 532.9Q150.9 536.0 148.5 535.0Q146.9 536.5 145.8 534.2Q143.9 533.8 144.3 531.2Z" fill="none" stroke="#000" stroke-width="1"/>
<path d="M144.3 531.2L145.7 530.7M144.4 527.4L145.8 528.5M146.5 524.2L147.0 526.7M149.5 525.5L148.7 527.4M150.9 528.8L149.5 529.3M151.2 532.9L149.7 531.7M148.5 535.0L148.1 532.9M145.8 534.2L146.6 532.4" fill="none" stroke="#000" stroke-width="0.8"/>
<path d="M153.7 529.3Q153.4 526.6 155.5 526.3Q156.9 523.6 158.7 525.3Q161.3 524.8 161.1 528.3Q162.6 530.2 161.0 532.2Q161.3 534.9 159.3 535.4Q158.0 538.2 156.1 536.2Q153.6 536.7 153.9 533.2Q152.0 531.5 153.7 529.3Z" fill="none" stroke="#000" stroke-width="1"/>
<path d="M153.7 529.3L155.2 530.0M155.5 526.3L156.3 528.2M158.7 525.3L158.2 527.6M161.1 528.3L159.5 529.4M161.0 532.2L159.5 531.6M159.3 535.4L158.5 533.5M156.1 536.2L156.6 534.0M153.9 533.2L155.4 532.2" fill="none" stroke="#000" stroke-width="0.8"/>
<path d="M163.5 519.0Q166.1 518.0 167.4 519.9Q170.1 521.1 168.3 523.2Q168.8 525.6 165.5 525.6Q163.5 527.1 161.6 525.3Q158.9 525.1 159.0 523.1Q157.9 521.3 160.3 520.3Q161.0 518.1 163.5 519.0Z" fill="none" stroke="#000" stroke-width="1"/>
<path d="M163.5 519.0L163.5 520.4M167.4 519.9L165.7 520.9M168.3 523.2L166.3 522.8M165.5 525.6L164.7 524.2M161.6 525.3L162.4 524.0M159.0 523.1L160.9 522.8M160.3 520.3L161.6 521.1" fill="none" stroke="#000" stroke-width="0.8"/>
<path d="M165.0 528.8Q163.5 526.4 166.0 525.3Q166.8 522.7 169.2 523.6Q171.7 522.7 172.6 525.3Q174.7 526.9 173.3 529.2Q173.3 531.9 170.7 532.0Q168.7 534.0 167.0 531.9Q164.3 531.5 165.0 528.8Z" fill="none" stroke="#000" stroke-width="1"/>
<path d="M165.0 528.8L166.7 528.4M166.0 525.3L167.3 526.4M169.2 523.6L169.1 525.5M172.6 525.3L171.1 526.4M173.3 529.2L171.5 528.7M170.7 532.0L170.0 530.3M167.0 531.9L167.8 530.2" fill="none" stroke="#000" stroke-width="0.8"/>
<path d="M164.0 534.0Q166.9 533.6 167.2 536.2Q169.6 537.7 168.0 539.7Q168.5 542.4 165.0 542.1Q163.5 544.4 161.2 542.9Q158.5 543.1 158.7 540.5Q155.9 539.3 157.8 537.4Q157.0 534.8 160.2 534.9Q161.7 532.7 164.0 534.0Z" fill="none" stroke="#000" stroke-width="1"/>
<path d="M164.0 534.0L163.4 535.9M167.2 536.2L165.3 537.2M168.0 539.7L165.7 539.2M165.0 542.1L164.0 540.6M161.2 542.9L161.8 541.1M158.7 540.5L160.3 539.6M157.8 537.4L159.8 537.9M160.2 534.9L161.2 536.4" fill="none" stroke="#000" stroke-width="0.8"/>
<path d="M139 525V755C139 759 134 760 131 755L130 753.7" fill="none" stroke="#000" stroke-width="1"/>
<path d="M131 755V1020.6" fill="none" stroke="#000" stroke-width="1"/>
<text x="109.25" y="745.5" font-size="11">p100</text>
<path d="M263 818V843.7" fill="none" stroke="#000" stroke-width="1"/>
<path d="M265 821V843.7" fill="none" stroke="#000" stroke-width="0.7"/>
<path d="M263 817.5v1.5" fill="none" stroke="#000" stroke-width="1.5"/>
<path d="M266.5 820c-1.5 2 1.5 3 0 5s1.5 3 0 5l0.5 2" fill="none" stroke="#000" stroke-width="0.8"/>
<path d="M267.3 837.0L265.5 832.0L269.1 832.0Z" fill="#000" stroke="#000" stroke-width="0.5"/>
<text x="273" y="833.4" font-size="11">p5</text>
<path d="M265.3 843.8C263.2 844.8 262.1 845.0 257.5 847.5C252.9 850.0 253.0 850.3 248.0 853.0C243.0 855.7 242.8 855.4 238.8 857.8C234.8 860.2 235.1 859.5 233.0 862.0C230.9 864.5 231.5 865.7 231.0 867.0" fill="none" stroke="#000" stroke-width="1"/>
<path d="M229.4 858.7V904.7" fill="none" stroke="#000" stroke-width="1"/>
<path d="M231.2 866V904.7" fill="none" stroke="#000" stroke-width="0.7"/>
<path d="M229.4 858.2v1.5" fill="none" stroke="#000" stroke-width="1.5"/>
<text x="236.5" y="887.5" font-size="11">p9</text>
<path d="M230.5 904.7C227.7 907.2 226.1 908.6 220.0 914.0C213.9 919.4 214.2 919.1 207.5 925.0C200.8 930.9 201.7 930.6 195.0 936.0C188.3 941.4 188.0 941.5 182.5 945.3C177.0 949.1 179.1 946.9 174.4 950.3C169.7 953.7 169.6 954.9 165.0 958.0C160.4 961.1 160.7 961.1 157.0 962.0C153.3 962.9 153.5 960.2 151.0 961.2C148.5 962.3 148.8 963.5 147.8 966.0C146.8 968.5 147.4 969.4 147.3 970.6" fill="none" stroke="#000" stroke-width="1"/>
<path d="M202.5 934.5C201.6 934.6 200.8 933.6 199.8 934.9C198.8 936.2 200.7 937.5 199.5 938.4C198.2 939.4 197.2 936.8 196.0 937.8C194.7 938.8 196.9 940.4 195.6 941.3C194.4 942.3 193.4 939.7 192.1 940.7C190.9 941.7 193.1 943.3 191.8 944.2C190.5 945.2 189.9 943.0 188.3 943.6C186.8 944.2 187.6 945.3 187.2 946.1" fill="none" stroke="#000" stroke-width="0.9"/>
<path d="M184.0 948.5L188.0 943.0L190.4 946.2Z" fill="#000" stroke="#000" stroke-width="0.5"/>
<path d="M145.3 962.8V1002" fill="none" stroke="#000" stroke-width="1"/>
<path d="M147.8 968V1002.5" fill="none" stroke="#000" stroke-width="0.8"/>
<path d="M143.8 962.8h3" fill="none" stroke="#000" stroke-width="1"/>
<text x="151.5" y="987.8" font-size="11">p8</text>
<path d="M147.5 1002.5C145.8 1004.2 143.2 1006.2 140.0 1009.7C136.8 1013.2 135.9 1014.8 133.8 1017.5C131.6 1020.2 132.4 1019.4 130.6 1021.2C128.8 1023.1 127.3 1021.1 126.0 1025.3C124.7 1029.5 125.5 1032.5 125.0 1039.4C124.5 1046.3 124.5 1047.0 123.8 1055.0C123.0 1063.0 123.2 1065.7 121.9 1073.8C120.6 1081.8 119.0 1082.5 118.0 1089.4C117.0 1096.3 118.6 1098.3 117.5 1103.4C116.4 1108.5 115.9 1107.6 113.4 1111.2C111.0 1114.9 110.3 1114.3 107.0 1119.0C103.7 1123.7 102.7 1126.8 99.4 1131.6C96.1 1136.4 95.9 1135.8 93.0 1139.4C90.1 1143.0 89.4 1143.7 86.9 1147.0C84.5 1150.3 83.5 1151.9 82.5 1153.4" fill="none" stroke="#000" stroke-width="1"/>
<text x="121.9" y="1102.5" font-size="11">c5</text>
<path d="M73.4 1146.9Q73.6 1148.8 71.4 1149.2Q69.4 1150.1 68.2 1148.5Q66.6 1147.1 68.1 1145.6Q69.1 1143.6 71.3 1144.6Q73.7 1144.9 73.4 1146.9Z" fill="none" stroke="#000" stroke-width="1"/>
<path d="M75.8 1148.0Q77.9 1147.2 78.9 1149.1Q80.7 1150.7 79.2 1152.5Q77.6 1154.3 75.4 1153.1Q73.1 1152.5 73.6 1150.3Q73.6 1148.2 75.8 1148.0Z" fill="none" stroke="#000" stroke-width="1"/>
<path d="M73.4 1152.5Q73.5 1153.8 72.1 1154.2Q70.8 1154.8 70.0 1153.6Q68.8 1152.6 69.9 1151.5Q70.5 1150.0 72.1 1150.6Q73.8 1150.9 73.4 1152.5Z" fill="none" stroke="#000" stroke-width="1"/>
<path d="M82.2 1152.5V1179.4" fill="none" stroke="#000" stroke-width="1"/>
<path d="M83.6 1154V1179.4" fill="none" stroke="#000" stroke-width="0.7"/>
<text x="87.8" y="1170.6" font-size="11">p5</text>
<path d="M83 1179.4L70.3 1195.6" fill="none" stroke="#000" stroke-width="1"/>
<path d="M71 1195.9V1254.4" fill="none" stroke="#000" stroke-width="1"/>
<path d="M72.5 1212.8V1228M72.5 1232V1254.4" fill="none" stroke="#000" stroke-width="0.9"/>
<path d="M70.3 1195v1.6" fill="none" stroke="#000" stroke-width="1.5"/>
<text x="76.9" y="1225.3" font-size="11">p14</text>
<path d="M56.4 1254.6H72.8" fill="none" stroke="#000" stroke-width="1"/>
<path d="M55.0 1220.0C55.2 1223.1 56.0 1228.7 56.2 1235.6C56.5 1242.5 56.4 1245.0 56.2 1254.4C56.1 1263.8 55.6 1270.6 55.6 1282.5C55.6 1294.4 56.4 1301.2 56.2 1313.8C56.1 1326.2 55.1 1331.8 55.0 1345.0C54.9 1358.2 55.5 1365.0 55.6 1380.0C55.7 1395.0 55.7 1406.2 55.7 1420.0C55.7 1433.8 55.2 1441.9 55.7 1449.0C56.2 1456.1 56.3 1453.9 58.0 1455.3C59.7 1456.7 62.8 1455.7 64.0 1455.8" fill="none" stroke="#444" stroke-width="1"/>
<path d="M63.5 1254V1455.5" fill="none" stroke="#000" stroke-width="1"/>
<path d="M64 1455.8H168C172 1455.8 175 1454.5 177.5 1452" fill="none" stroke="#444" stroke-width="1"/>
<path d="M67.5 1336c1.5 2 -1.5 3 0 5s-1 3 0.3 5" fill="none" stroke="#000" stroke-width="0.8"/>
<path d="M68.0 1353.5L66.0 1347.5L70.0 1347.5Z" fill="#000" stroke="#000" stroke-width="0.5"/>
<text x="72.8" y="1374.7" font-size="11">p44</text>
<path d="M179.8 1261v1" fill="none" stroke="#555" stroke-width="1"/>
<path d="M179.8 1271L179.3 1290L178.5 1308L177.4 1326L176.3 1344L175.5 1404.4" fill="none" stroke="#000" stroke-width="1" stroke-dasharray="9.7 8.3 9.7 8.3 9.7 8.3 9.7 8.3 9.7 3.8 200"/>
<text x="193.75" y="1446.3" font-size="15" textLength="52.5">CHOKE</text>
<path d="M173.1 1423.1Q170.4 1424.4 170.4 1420.9Q166.9 1421.7 167.7 1418.9Q163.6 1418.3 166.2 1415.7Q163.5 1413.6 167.8 1412.6Q165.6 1409.6 168.7 1409.3Q168.0 1405.4 171.4 1406.8Q172.6 1403.3 175.2 1406.8Q177.7 1403.9 179.1 1406.6Q181.9 1406.2 180.7 1410.2Q185.2 1409.6 184.2 1412.3Q187.3 1414.0 182.7 1415.9Q186.7 1418.9 183.3 1419.8Q184.5 1423.5 180.0 1421.9Q180.0 1426.3 176.8 1423.7Q174.8 1427.0 173.1 1423.1Z" fill="none" stroke="#000" stroke-width="1"/>
<path d="M173.1 1423.1L173.9 1419.7M170.4 1420.9L172.3 1418.4M167.7 1418.9L170.8 1417.3M166.2 1415.7L169.9 1415.4M167.8 1412.6L170.9 1413.6M168.7 1409.3L171.3 1411.7M171.4 1406.8L172.9 1410.3M175.2 1406.8L175.1 1410.3M179.1 1406.6L177.4 1410.1M180.7 1410.2L178.3 1412.2M184.2 1412.3L180.3 1413.4M182.7 1415.9L179.5 1415.5M183.3 1419.8L179.8 1417.8M180.0 1421.9L177.9 1419.0M176.8 1423.7L176.0 1420.1" fill="none" stroke="#000" stroke-width="0.8"/>
<path d="M183.8 1434.0Q184.7 1436.4 180.9 1436.1Q180.8 1439.0 178.1 1437.6Q176.1 1440.0 174.7 1437.4Q171.8 1438.2 171.5 1435.9Q168.3 1435.0 170.1 1432.7Q168.1 1430.6 171.5 1429.7Q171.0 1426.9 174.2 1427.8Q175.6 1425.7 177.6 1427.5Q179.9 1426.3 180.9 1428.3Q183.9 1428.3 183.1 1430.7Q186.2 1432.2 183.8 1434.0Z" fill="none" stroke="#000" stroke-width="1"/>
<path d="M183.8 1434.0L180.9 1433.4M180.9 1436.1L179.3 1434.6M178.1 1437.6L177.6 1435.5M174.7 1437.4L175.7 1435.3M171.5 1435.9L173.8 1434.4M170.1 1432.7L173.0 1432.6M171.5 1429.7L173.8 1430.9M174.2 1427.8L175.4 1429.7M177.6 1427.5L177.3 1429.6M180.9 1428.3L179.3 1430.1M183.1 1430.7L180.5 1431.5" fill="none" stroke="#000" stroke-width="0.8"/>
<path d="M179.8 1441.8Q182.7 1442.2 182.0 1445.1Q183.8 1447.6 181.1 1449.0Q180.4 1451.7 177.7 1450.2Q175.8 1451.9 174.3 1450.0Q171.4 1449.8 172.4 1446.9Q171.2 1444.6 173.3 1443.3Q173.6 1440.4 176.2 1441.3Q178.4 1439.5 179.8 1441.8Z" fill="none" stroke="#000" stroke-width="1"/>
<path d="M179.8 1441.8L178.6 1443.5M182.0 1445.1L179.9 1445.5M181.1 1449.0L179.4 1447.7M177.7 1450.2L177.4 1448.4M174.3 1450.0L175.5 1448.3M172.4 1446.9L174.3 1446.5M173.3 1443.3L174.9 1444.4M176.2 1441.3L176.5 1443.3" fill="none" stroke="#000" stroke-width="0.8"/>
<path d="M134 1457C140 1461 150 1463.5 157.5 1465.8" fill="none" stroke="#333" stroke-width="1.5"/>
<path d="M164.0 1468.0L157.2 1467.9L158.5 1464.1Z" fill="#000" stroke="#000" stroke-width="0.5"/>
<path d="M291 929V937.5H441.3V929M341 929V937.5M391 929V937.5" fill="none" stroke="#000" stroke-width="1.6"/>
<text x="291" y="926.6" font-size="14" text-anchor="middle">0</text>
<text x="341" y="926.6" font-size="14" text-anchor="middle">10</text>
<text x="395.3" y="926.6" font-size="14" text-anchor="middle">20</text>
<text x="441" y="926.6" font-size="14" text-anchor="middle">30</text>
<text x="346" y="948.4" font-size="11">metres</text>
<path d="M426.2 1060.0C427.9 1057.0 428.2 1053.8 432.5 1048.8C436.8 1043.8 436.5 1045.2 442.5 1041.2C448.5 1037.2 447.7 1037.8 455.0 1033.8C462.3 1029.8 463.3 1029.4 470.0 1026.2C476.7 1023.1 475.3 1023.5 480.0 1022.0C484.7 1020.5 483.8 1021.3 487.5 1020.6C491.2 1019.9 490.8 1020.6 493.8 1019.4C496.8 1018.2 496.7 1017.0 498.8 1016.2C500.8 1015.5 501.0 1015.7 501.5 1016.5C502.0 1017.3 501.3 1018.1 500.6 1019.4C499.9 1020.7 497.9 1020.3 498.8 1021.2C499.6 1022.2 501.1 1021.3 503.8 1023.0C506.4 1024.7 506.4 1025.0 508.8 1027.5C511.1 1030.0 511.4 1029.8 512.5 1032.5C513.6 1035.2 513.3 1034.5 512.8 1037.5C512.2 1040.5 512.2 1039.8 510.6 1043.8C509.0 1047.8 508.6 1048.2 506.9 1052.5C505.2 1056.8 505.2 1056.0 504.4 1060.0C503.6 1064.0 503.1 1064.2 503.8 1067.5C504.4 1070.8 504.9 1069.2 506.9 1072.5C508.9 1075.8 508.8 1075.7 511.2 1080.0C513.7 1084.3 513.9 1084.4 516.2 1088.8C518.6 1093.1 518.2 1093.4 520.0 1096.2C521.8 1099.1 521.3 1098.6 523.1 1099.4C524.9 1100.2 525.3 1098.7 526.9 1099.4C528.5 1100.1 528.2 1099.7 529.0 1101.9C529.8 1104.1 529.5 1104.0 529.8 1107.5C530.0 1111.0 529.9 1110.7 530.0 1115.0C530.1 1119.3 529.0 1120.1 530.0 1123.8C531.0 1127.4 531.1 1124.8 533.8 1128.8C536.4 1132.8 536.9 1133.7 540.0 1138.8C543.1 1143.8 542.6 1143.3 545.3 1147.8C548.0 1152.3 547.7 1152.5 550.0 1155.6C552.3 1158.7 551.7 1158.1 554.0 1159.5C556.3 1160.9 556.1 1160.9 558.6 1161.0C561.1 1161.1 561.0 1160.7 563.3 1159.7C565.6 1158.7 566.2 1157.9 567.2 1157.2" fill="none" stroke="#000" stroke-width="1.1"/>
<path d="M432.5 1058.8C433.8 1057.1 433.8 1056.2 437.5 1052.5C441.2 1048.8 440.9 1049.0 446.2 1045.0C451.6 1041.0 450.5 1041.5 457.5 1037.5C464.5 1033.5 466.5 1032.8 472.5 1030.0C478.5 1027.2 476.3 1028.4 480.0 1026.9C483.7 1025.4 482.9 1025.3 486.2 1024.4C489.6 1023.5 488.8 1023.7 492.5 1023.5C496.2 1023.3 496.8 1022.8 500.0 1023.5C503.2 1024.2 502.4 1024.2 504.4 1026.2C506.4 1028.3 506.5 1028.2 507.5 1031.2C508.5 1034.2 508.4 1034.2 508.1 1037.5C507.8 1040.8 507.9 1039.8 506.2 1043.8C504.6 1047.8 503.7 1047.8 501.9 1052.5C500.1 1057.2 499.9 1056.9 499.4 1061.2C498.9 1065.6 498.8 1064.8 500.0 1068.8C501.2 1072.8 501.4 1071.9 503.8 1076.2C506.1 1080.6 506.1 1080.3 508.8 1085.0C511.4 1089.7 511.4 1089.8 513.8 1093.8C516.1 1097.8 515.9 1096.7 517.5 1100.0C519.1 1103.3 518.9 1102.9 519.8 1106.2C520.6 1109.6 519.9 1109.2 520.6 1112.5C521.3 1115.8 521.0 1115.8 522.5 1118.8C524.0 1121.8 524.4 1121.1 526.2 1123.8C528.1 1126.4 527.2 1124.8 529.4 1128.8C531.6 1132.8 531.4 1133.7 534.4 1138.8C537.4 1143.8 537.9 1143.3 540.6 1147.8C543.3 1152.3 542.8 1152.7 544.5 1155.6C546.2 1158.5 546.3 1157.9 546.9 1158.8" fill="none" stroke="#000" stroke-width="1.1"/>
<path d="M492 1023.5L496 1020.5L498.5 1023.5Z" fill="none" stroke="#000" stroke-width="0.9"/>
<path d="M521 1105h3v3h-3z" fill="none" stroke="#000" stroke-width="0.8"/>
<path d="M545.3 1159.3L547.3 1156L549 1159.3Z" fill="none" stroke="#000" stroke-width="0.9"/>
<path d="M495 1007V1037.5" fill="none" stroke="#000" stroke-width="1"/>
<path d="M491.2 1008.8L495.4 1006.8L495.4 1010.7Z" fill="#000" stroke="#000" stroke-width="0.4"/>
<text x="489.4" y="1003" font-size="15">D</text>
<path d="M430 1038.2L435.8 1043.8M443.5 1051L452 1059.5" fill="none" stroke="#000" stroke-width="1.1"/>
<path d="M427.2 1035.4L430.7 1038.0L426.2 1040.2Z" fill="#000" stroke="#000" stroke-width="0.4"/>
<text x="414.6" y="1038" font-size="15">E</text>
<path d="M418 1055.6L425 1059.5M433 1064.5L445 1071.2" fill="none" stroke="#000" stroke-width="1.1"/>
<path d="M414.0 1053.4L418.5 1055.5L414.4 1057.8Z" fill="#000" stroke="#000" stroke-width="0.4"/>
<text x="403" y="1061.8" font-size="15">F</text>
<path d="M430.7 1054.9Q432.0 1054.9 432.0 1056.3Q432.3 1057.4 431.2 1057.9Q430.2 1058.5 429.4 1057.6Q428.3 1056.9 428.9 1055.7Q429.4 1054.4 430.7 1054.9Z" fill="none" stroke="#000" stroke-width="1"/>
<path d="M430.6 1061.9Q429.0 1061.4 429.6 1060.1Q429.7 1058.6 431.3 1058.7Q432.8 1058.5 433.1 1059.9Q434.1 1061.1 432.9 1061.9Q431.7 1063.0 430.6 1061.9Z" fill="none" stroke="#000" stroke-width="1"/>
<path d="M495 1086.2L517.5 1072.5" fill="none" stroke="#000" stroke-width="1.1"/>
<path d="M520.8 1071.5L516.9 1069.2L518.0 1073.7Z" fill="#000" stroke="#000" stroke-width="0.4"/>
<text x="522.8" y="1078" font-size="15">C</text>
<path d="M520 1130L541.3 1118" fill="none" stroke="#000" stroke-width="1.1"/>
<path d="M516.8 1130.0L520.7 1127.6L520.9 1132.2Z" fill="#000" stroke="#000" stroke-width="0.4"/>
<text x="543.3" y="1120.8" font-size="15">B</text>
<text x="450" y="1053.8" font-size="11">climb up</text>
<text x="494.5" y="1125" font-size="11" textLength="23">c 4·5</text>
<text x="452.5" y="1148" font-size="11">p9</text>
<text x="482.7" y="1148" font-size="11">p5</text>
<text x="395.5" y="1148" font-size="11">p10</text>
<text x="362.5" y="1137.3" font-size="11">-12</text>
<text x="368.7" y="1166" font-size="11">p8</text>
<text x="328" y="1190" font-size="11">p100</text>
<text x="283.7" y="1147.5" font-size="15" textLength="70.7">BOULDER</text>
<text x="283.7" y="1166.3" font-size="15" textLength="47.5">SHAFT</text>
<text x="423" y="1192.5" font-size="15" xml:space="preserve" textLength="65">BIG  RIFT</text>
<text x="448.7" y="1249.6" font-size="15" textLength="80.8">ENTRANCE</text>
<path d="M426.2 1061.2C424.4 1064.2 422.5 1067.5 419.5 1072.5C416.5 1077.5 417.6 1075.5 415.1 1080.0C412.6 1084.5 412.7 1084.8 410.0 1089.4C407.3 1094.0 406.6 1094.1 404.8 1097.3C403.0 1100.5 404.7 1098.1 403.4 1101.5C402.1 1104.9 402.5 1105.1 400.1 1110.0C397.7 1114.9 397.3 1114.0 394.5 1120.0C391.7 1126.0 392.0 1126.8 389.5 1132.5C387.0 1138.2 386.2 1139.1 385.0 1141.5" fill="none" stroke="#000" stroke-width="1.1"/>
<path d="M432.5 1065.0C431.3 1067.4 429.9 1070.0 428.0 1074.0C426.1 1078.0 427.3 1075.9 425.5 1080.0C423.7 1084.1 423.3 1084.7 421.2 1089.4C419.1 1094.1 419.7 1093.6 417.5 1097.8C415.3 1102.0 415.3 1102.0 412.8 1105.3C410.3 1108.6 410.1 1107.3 408.1 1110.0C406.1 1112.7 406.6 1112.9 405.3 1115.6C404.0 1118.3 405.6 1115.5 403.4 1120.0C401.2 1124.5 400.0 1126.0 397.0 1132.5C394.0 1139.0 393.3 1141.2 392.0 1144.3" fill="none" stroke="#000" stroke-width="1.1"/>
<path d="M392.0 1144.3C391.6 1143.8 392.4 1143.3 390.5 1142.6C388.6 1141.9 388.3 1141.4 385.0 1141.5C381.7 1141.6 381.3 1141.3 378.0 1142.8C374.7 1144.3 374.3 1145.1 372.5 1147.0C370.7 1148.9 372.9 1146.5 371.2 1150.0C369.6 1153.5 368.9 1154.7 366.2 1160.0C363.6 1165.3 363.4 1165.3 361.2 1170.0C359.1 1174.7 359.1 1173.5 358.0 1177.5C356.9 1181.5 357.0 1181.7 357.0 1185.0C357.0 1188.3 357.5 1187.3 358.0 1190.0C358.5 1192.7 358.9 1191.0 358.8 1195.0C358.6 1199.0 358.5 1199.0 357.5 1205.0C356.5 1211.0 356.0 1212.5 355.0 1217.5C354.0 1222.5 354.1 1222.1 353.8 1223.8" fill="none" stroke="#000" stroke-width="1.1"/>
<path d="M371.2 1150.0C372.0 1150.1 371.8 1150.1 374.0 1150.2C376.2 1150.3 376.2 1150.9 379.5 1150.4C382.8 1149.9 383.3 1150.0 386.5 1148.5C389.7 1147.0 390.2 1145.8 391.5 1144.8" fill="none" stroke="#000" stroke-width="1.1"/>
<path d="M373.7 1138.7L378.7 1147.5" fill="none" stroke="#000" stroke-width="1"/>
<path d="M392.0 1144.3C392.4 1146.9 392.5 1150.1 393.5 1155.3C394.5 1160.5 395.1 1162.6 396.4 1166.5C397.7 1170.4 397.6 1170.0 399.2 1172.0C400.8 1174.0 399.8 1174.2 403.4 1175.0C407.0 1175.8 409.4 1176.2 414.6 1175.5C419.8 1174.8 421.5 1174.1 425.8 1172.0C430.1 1169.9 430.3 1169.4 432.9 1166.5C435.5 1163.6 435.0 1162.1 437.0 1159.5C439.0 1156.9 437.3 1156.4 441.3 1155.3C445.3 1154.2 446.5 1154.8 454.0 1154.7C461.5 1154.6 467.4 1154.9 473.6 1154.7C479.8 1154.5 477.7 1153.7 480.6 1153.9C483.5 1154.1 484.2 1155.2 486.2 1155.6C488.2 1156.0 488.3 1155.8 489.0 1155.8" fill="none" stroke="#000" stroke-width="1.1"/>
<path d="M360.0 1175.0C361.2 1174.0 361.0 1173.2 364.0 1171.5C367.0 1169.8 364.4 1170.1 370.0 1169.2C375.6 1168.3 375.0 1167.5 382.5 1168.5C390.0 1169.5 391.2 1171.3 395.0 1172.5" fill="none" stroke="#000" stroke-width="1" stroke-dasharray="4 2"/>
<path d="M360.0 1178.7C361.2 1177.7 361.0 1177.2 364.0 1175.5C367.0 1173.8 364.4 1174.2 370.0 1173.2C375.6 1172.2 375.0 1171.5 382.5 1172.0C390.0 1172.5 391.2 1174.1 395.0 1175.0" fill="none" stroke="#000" stroke-width="1" stroke-dasharray="4 2"/>
<path d="M489 1156H506.5" fill="none" stroke="#000" stroke-width="1"/>
<path d="M487.6 1159.1H506.5" fill="none" stroke="#000" stroke-width="1.1"/>
<path d="M363.8 1191.2C363.2 1190.4 361.8 1189.3 361.2 1187.5C360.7 1185.7 359.9 1185.4 361.2 1183.5C362.5 1181.6 363.0 1180.7 366.9 1179.4C370.8 1178.1 371.4 1178.4 378.0 1177.9C384.6 1177.4 386.5 1177.1 395.0 1177.2C403.5 1177.3 406.7 1178.9 414.6 1178.4C422.5 1177.9 423.8 1177.1 428.7 1175.0C433.6 1172.9 433.2 1172.3 435.7 1169.3C438.2 1166.3 437.7 1164.7 439.3 1162.3C440.9 1159.9 439.3 1159.8 442.7 1159.0C446.1 1158.2 446.8 1158.8 454.0 1158.8C461.2 1158.8 467.1 1158.2 473.6 1158.8C480.1 1159.4 478.7 1161.4 482.0 1161.5C485.3 1161.6 486.3 1159.7 487.6 1159.1" fill="none" stroke="#000" stroke-width="1.1"/>
<path d="M454.5 1151.5V1155" fill="none" stroke="#000" stroke-width="1"/>
<path d="M363.8 1191.2C364.1 1192.9 364.8 1193.2 365.0 1197.5C365.2 1201.8 365.2 1202.2 364.5 1207.5C363.8 1212.8 364.0 1212.8 362.5 1217.5C361.0 1222.2 359.8 1223.0 358.8 1225.0" fill="none" stroke="#000" stroke-width="1.1"/>
<path d="M357.2 1188.5l1.5 3" fill="none" stroke="#000" stroke-width="1"/>
<path d="M345.3 1220.6L353 1222.6" fill="none" stroke="#000" stroke-width="1" stroke-dasharray="3 1.5"/>
<path d="M357.8 1224.2L371 1229" fill="none" stroke="#000" stroke-width="1.1"/>
<path d="M344.7 1220.3L340.3 1218.0L340.5 1222.7Z" fill="#000" stroke="#000" stroke-width="0.4"/>
<text x="325.8" y="1222.6" font-size="15">G</text>
<text x="366.2" y="1223" font-size="11">c2</text>
<path d="M353.75 1223.75L346.2 1248.7M356.3 1224.5L348.5 1250" fill="none" stroke="#000" stroke-width="1"/>
<path d="M346.2 1249.0C345.7 1249.8 345.2 1252.3 343.8 1252.5C342.3 1252.7 341.8 1250.6 340.0 1250.0C338.2 1249.4 337.7 1249.1 336.2 1250.0C334.8 1250.9 334.6 1251.4 333.8 1253.8C332.9 1256.1 335.1 1257.4 332.5 1260.0C329.9 1262.6 327.8 1262.4 322.5 1265.0C317.2 1267.6 315.2 1268.6 310.0 1271.2C304.8 1273.9 304.4 1274.2 300.0 1276.2C295.6 1278.3 294.8 1278.2 291.2 1280.0C287.8 1281.8 287.0 1282.0 285.0 1283.8C283.0 1285.5 283.4 1285.2 282.5 1287.5C281.6 1289.8 281.0 1291.4 281.2 1293.8C281.5 1296.1 281.1 1295.8 283.8 1297.5C286.4 1299.2 287.8 1298.6 292.5 1301.2C297.2 1303.9 298.5 1304.4 303.8 1308.8C309.0 1313.1 309.5 1314.5 315.0 1320.0C320.5 1325.5 321.1 1326.1 327.5 1332.5C333.9 1338.9 335.5 1340.5 342.5 1347.5C349.5 1354.5 350.5 1355.8 357.5 1362.5C364.5 1369.2 365.5 1370.1 372.5 1376.2C379.5 1382.4 381.4 1384.1 387.5 1388.8C393.6 1393.4 395.1 1394.1 398.8 1396.2C402.4 1398.4 402.0 1397.6 403.0 1398.0" fill="none" stroke="#000" stroke-width="1.1"/>
<path d="M348.5 1250.0C347.8 1251.2 347.2 1254.3 345.5 1255.0C343.8 1255.7 343.0 1253.5 341.2 1253.0C339.5 1252.5 339.2 1252.2 338.0 1253.0C336.8 1253.8 336.8 1254.4 336.0 1256.5C335.2 1258.6 337.4 1259.4 334.5 1262.0C331.6 1264.6 329.2 1264.8 323.8 1267.5C318.3 1270.2 316.2 1271.1 311.2 1273.8C306.3 1276.4 306.0 1276.1 302.5 1278.8C299.0 1281.4 298.0 1283.0 296.2 1285.0C294.5 1287.0 293.5 1285.8 295.0 1287.5C296.5 1289.2 298.4 1289.0 302.5 1292.5C306.6 1296.0 307.2 1297.8 312.5 1302.5C317.8 1307.2 319.2 1307.8 325.0 1312.5C330.8 1317.2 331.7 1317.8 337.5 1322.5C343.3 1327.2 345.6 1329.0 350.0 1332.5C354.4 1336.0 353.9 1336.3 356.2 1337.5C358.6 1338.7 358.8 1338.4 360.0 1337.5C361.2 1336.6 360.4 1335.2 361.2 1333.8C362.1 1332.3 362.3 1331.8 363.8 1331.2C365.2 1330.7 365.8 1330.4 367.5 1331.2C369.2 1332.1 369.5 1333.8 371.2 1335.0C373.0 1336.2 374.1 1336.0 375.0 1336.2" fill="none" stroke="#000" stroke-width="1.1"/>
<path d="M375 1336.3L387.5 1332.5" fill="none" stroke="#000" stroke-width="1" stroke-dasharray="3 2"/>
<path d="M362.0 1340.5C362.5 1339.4 362.6 1337.8 363.8 1336.2C364.9 1334.7 364.6 1334.2 366.2 1334.5C367.9 1334.8 367.7 1336.6 370.0 1337.5C372.3 1338.4 373.7 1337.7 375.0 1337.8" fill="none" stroke="#000" stroke-width="1.1"/>
<path d="M361.5 1339.0C362.3 1340.7 362.4 1342.5 365.0 1346.2C367.6 1350.0 368.4 1350.0 372.5 1355.0C376.6 1360.0 377.8 1362.0 382.5 1367.5C387.2 1373.0 387.8 1374.1 392.5 1378.8C397.2 1383.4 399.3 1384.6 402.5 1387.5C405.7 1390.4 405.1 1389.5 406.2 1391.2C407.4 1393.0 407.8 1393.4 407.5 1395.0C407.2 1396.6 406.1 1397.3 405.0 1398.0C403.9 1398.7 403.5 1398.0 403.0 1398.0" fill="none" stroke="#000" stroke-width="1.1"/>
<path d="M405.1 1393.8Q405.8 1395.4 404.3 1396.3Q403.0 1397.5 401.7 1396.3Q400.1 1395.5 400.8 1393.8Q401.0 1391.8 403.0 1391.8Q405.0 1391.7 405.1 1393.8Z" fill="none" stroke="#000" stroke-width="1"/>
<path d="M291.5 1280L296.5 1287M282.5 1287.5L295 1287.5" fill="none" stroke="#000" stroke-width="1"/>
<text x="355" y="1257" font-size="11">c5</text>
<path d="M319.5 1254.7L332 1276.5" fill="none" stroke="#000" stroke-width="1.1"/>
<path d="M316.4 1255.0L319.5 1252.5L321.2 1256.0Z" fill="#000" stroke="#000" stroke-width="0.4"/>
<text x="333.5" y="1285" font-size="15">H</text>
<text x="295" y="1272.5" font-size="11">p5</text>
<text x="302" y="1287" font-size="11">p14</text>
<text x="260" y="1286.3" font-size="11">p44</text>
<path d="M356.5 1326.2L360 1331.2M367 1337.5L373.4 1343" fill="none" stroke="#000" stroke-width="1.1"/>
<path d="M352.8 1324.2L357.2 1323.0L356.7 1327.0Z" fill="#000" stroke="#000" stroke-width="0.4"/>
<text x="374.4" y="1350.8" font-size="14.5">I</text>
<text x="385" y="1326.3" font-size="11">too low for</text>
<text x="393.2" y="1338.3" font-size="11">geriatrics</text>
<text x="410.5" y="1407" font-size="15" textLength="52.5">CHOKE</text>
<path d="M491.6 1362V1293" fill="none" stroke="#000" stroke-width="1.5"/>
<path d="M491.6 1287.0L493.5 1294.5L489.7 1294.5Z" fill="#000" stroke="#000" stroke-width="0.5"/>
<text x="486.2" y="1284.5" font-size="15">N</text>
<text x="497.3" y="1302.2" font-size="11">1978</text>
<text x="533" y="1356.3" font-size="15" textLength="37.6">PLAN</text>
<path d="M509 1147.8L507 1155.6" fill="none" stroke="#444" stroke-width="1.2"/>
<path d="M509 1147.8l1.3 -1" fill="none" stroke="#444" stroke-width="1"/>
<path d="M508.3 1150.5C508.6 1150.8 507.9 1150.8 509.4 1151.7C510.9 1152.6 511.7 1152.5 514.0 1154.0C516.3 1155.5 516.3 1154.7 518.0 1157.2C519.7 1159.7 519.0 1160.3 520.3 1163.4C521.6 1166.5 521.0 1166.9 522.7 1169.0C524.4 1171.1 523.9 1170.8 526.6 1171.2C529.3 1171.7 529.5 1171.7 532.8 1170.5C536.1 1169.3 536.3 1168.9 539.0 1166.6C541.7 1164.3 541.5 1164.5 543.0 1161.9C544.5 1159.3 544.1 1158.3 544.5 1157.0" fill="none" stroke="#000" stroke-width="1.1"/>
<path d="M507.0 1156.4C507.6 1157.7 507.8 1159.7 509.4 1161.9C511.0 1164.1 511.8 1163.6 514.0 1165.8C516.2 1168.0 516.6 1169.0 518.8 1171.2C520.9 1173.5 521.2 1174.4 523.4 1175.6C525.6 1176.8 525.4 1176.7 528.0 1176.2C530.6 1175.8 531.5 1175.3 534.4 1173.6C537.3 1171.9 538.1 1171.0 540.6 1168.9C543.1 1166.8 543.5 1166.1 545.3 1164.7C547.1 1163.3 547.1 1163.1 548.4 1163.0C549.7 1162.9 550.0 1163.0 550.8 1164.2C551.6 1165.4 551.7 1164.2 551.9 1168.0C552.1 1171.8 551.8 1174.4 551.6 1180.6C551.4 1186.8 551.2 1188.9 551.2 1194.7C551.2 1200.5 551.4 1201.2 551.6 1205.6C551.8 1210.0 552.1 1210.8 551.9 1213.4C551.7 1216.0 552.0 1215.6 550.8 1216.6C549.6 1217.6 550.0 1217.6 546.9 1217.8C543.8 1218.0 541.9 1217.8 537.5 1217.3C533.1 1216.8 532.4 1216.7 528.0 1215.8C523.6 1214.9 523.1 1214.2 518.8 1213.4C514.4 1212.6 513.1 1212.6 509.4 1212.2C505.7 1211.8 504.5 1211.7 503.0 1211.6" fill="none" stroke="#000" stroke-width="1.1"/>
<path d="M521 1156h4" fill="none" stroke="#000" stroke-width="1"/>
<path d="M525.8 1173h3.2" fill="none" stroke="#000" stroke-width="1.2"/>
<path d="M510.2 1163.4C510.4 1165.8 509.6 1166.8 511.0 1171.2C512.4 1175.7 511.5 1174.8 514.8 1178.3C518.1 1181.8 517.9 1181.5 521.9 1183.0C525.9 1184.5 524.5 1184.1 528.0 1183.4C531.5 1182.7 531.2 1182.2 533.6 1180.6C536.0 1179.0 535.3 1178.8 536.0 1178.0" fill="none" stroke="#000" stroke-width="1" stroke-dasharray="5 3"/>
<text x="554" y="1155.6" font-size="11">c3</text>
<path d="M564.8 1159.5L568.4 1157.5M565.6 1161L569 1158.5" fill="none" stroke="#000" stroke-width="0.9"/>
<path d="M564.8 1160.3C564.7 1161.8 565.1 1163.7 564.4 1166.6C563.7 1169.5 563.6 1169.9 561.7 1172.8C559.8 1175.7 558.1 1176.4 556.2 1179.0C554.4 1181.6 554.4 1180.1 553.9 1183.8C553.4 1187.4 553.8 1189.6 553.9 1194.7C554.0 1199.8 554.2 1202.0 554.4 1205.6C554.6 1209.2 554.4 1208.5 554.7 1210.3C555.0 1212.1 554.6 1212.1 555.5 1213.4C556.4 1214.7 556.6 1215.2 558.6 1215.8C560.6 1216.4 561.6 1216.4 564.0 1215.8C566.4 1215.2 566.9 1214.3 568.8 1213.4C570.6 1212.5 570.1 1212.2 571.9 1211.9C573.7 1211.6 575.5 1212.1 576.6 1212.2" fill="none" stroke="#000" stroke-width="1.1"/>
<path d="M553.9 1208.7L557 1210L560 1211" fill="none" stroke="#000" stroke-width="1"/>
<path d="M560.5 1211.2L557.5 1208.6L556.8 1211.2Z" fill="#000" stroke="#000" stroke-width="0.4"/>
<path d="M568.7 1211L573.4 1212.2" fill="none" stroke="#000" stroke-width="1"/>
<path d="M582 1215H588" fill="none" stroke="#000" stroke-width="1"/>
<path d="M591.0 1214.7L587.0 1213.2L587.0 1216.2Z" fill="#000" stroke="#000" stroke-width="0.4"/>
<text x="557.5" y="1187.7" font-size="11">p19</text>
<text x="490" y="1170" font-size="11">p67</text>
<text x="524.2" y="1165" font-size="11">p5</text>
<text x="531.2" y="1213" font-size="11">p23</text>
<path d="M503.0 1213.4C504.5 1213.7 505.0 1214.1 509.4 1214.7C513.8 1215.3 517.6 1215.3 521.9 1215.8C526.2 1216.3 525.1 1216.0 528.0 1216.9C530.9 1217.8 531.5 1217.8 534.4 1219.7C537.3 1221.6 538.1 1222.7 540.6 1225.2C543.1 1227.7 543.3 1228.2 545.3 1230.6C547.3 1233.0 547.7 1233.6 549.2 1235.3C550.7 1237.0 550.1 1237.1 551.6 1238.0C553.1 1238.9 553.5 1239.0 555.5 1239.2C557.5 1239.4 559.1 1238.9 560.2 1238.8" fill="none" stroke="#000" stroke-width="1.1"/>
<path d="M512.3 1211.7Q514.7 1211.7 515.7 1213.0Q517.4 1214.1 515.6 1214.6Q514.6 1215.5 512.2 1214.7Q509.8 1214.0 510.2 1212.9Q509.6 1211.5 512.3 1211.7Z" fill="none" stroke="#000" stroke-width="1"/>
<path d="M571.0 1213.4C569.7 1214.1 567.6 1215.1 565.6 1216.6C563.6 1218.1 563.4 1217.5 562.5 1219.7C561.6 1221.9 561.8 1222.7 561.7 1226.0C561.6 1229.3 562.6 1230.7 562.2 1233.8C561.9 1236.8 561.2 1237.0 560.2 1239.2C559.2 1241.4 559.5 1241.3 557.8 1243.0C556.1 1244.7 555.5 1245.4 553.0 1246.6C550.5 1247.8 549.8 1247.5 546.9 1248.0C544.0 1248.5 542.7 1248.7 540.6 1248.6C538.5 1248.5 538.3 1248.2 537.8 1247.5C537.3 1246.8 537.3 1246.2 538.3 1245.5C539.3 1244.8 540.2 1245.0 542.2 1244.7C544.2 1244.4 544.7 1245.0 546.9 1244.4C549.1 1243.8 549.8 1243.3 551.6 1242.3C553.4 1241.3 554.0 1240.5 554.7 1240.0" fill="none" stroke="#000" stroke-width="1.1"/>
<path d="M544.5 1245C546 1246 546.5 1247 546 1248" fill="none" stroke="#000" stroke-width="0.9"/>
<path d="M553.2 1238.0L549.2 1236.0L549.6 1240.2Z" fill="#000" stroke="#000" stroke-width="0.4"/>
<path d="M549.2 1240V1259.5" fill="none" stroke="#333" stroke-width="1.1" stroke-dasharray="9.5 2.3 8 3"/>
<text x="550.8" y="1270" font-size="15">A</text>
<text x="562.5" y="1244.4" font-size="11">p18</text>
</svg>
</body></html>
